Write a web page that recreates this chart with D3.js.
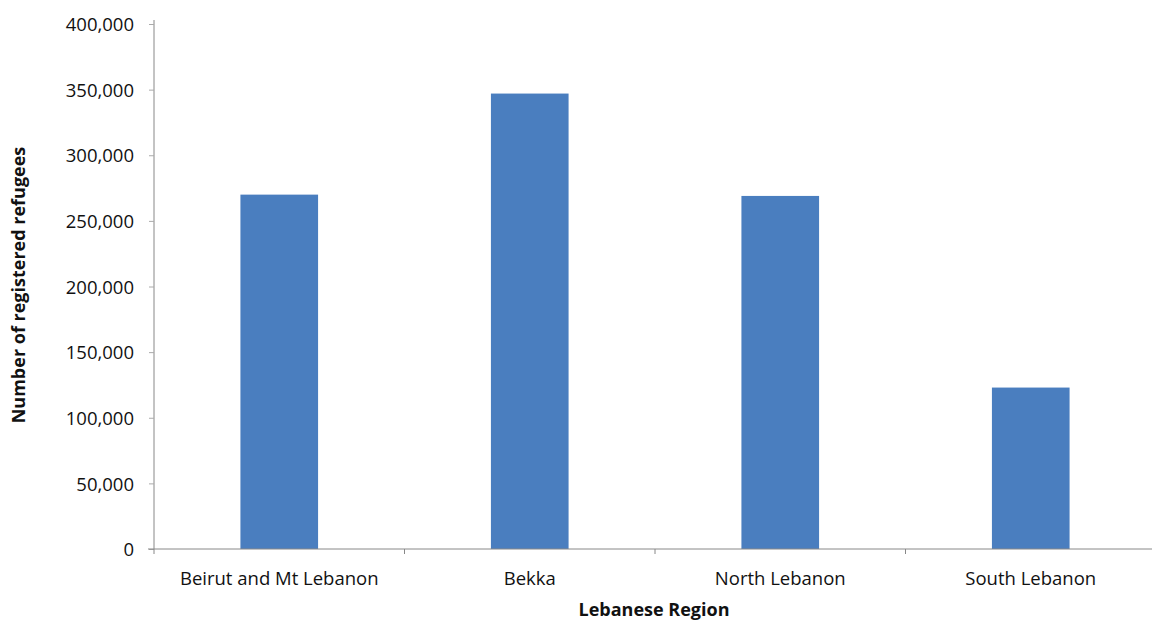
<!DOCTYPE html>
<html>
<head>
<meta charset="utf-8">
<script src="https://cdn.jsdelivr.net/npm/d3@7"></script>
<style>
  html, body { margin: 0; padding: 0; background: #fff; }
  svg { display: block; }
  text { font-family: "Open Sans", "Noto Sans", sans-serif; fill: #111; }
</style>
</head>
<body>
<svg id="chart" width="1152" height="622"></svg>
<script>
const categories = ["Beirut and Mt Lebanon", "Bekka", "North Lebanon", "South Lebanon"];
const refugees = [270000, 347000, 269000, 123000];
const yTicks = [0, 50000, 100000, 150000, 200000, 250000, 300000, 350000, 400000];
const xTitle = "Lebanese Region";
const yTitle = "Number of registered refugees";

const svg = d3.select("#chart");
const mLeft = 154, mRight = 1156, mTop = 24, mBottom = 549;

const x = d3.scaleBand().domain(categories).range([mLeft, mRight]).paddingInner(0.69).paddingOuter(0.345);
const y = d3.scaleLinear().domain([0, 400000]).range([mBottom, mTop]);

// bars
svg.append("g").selectAll("rect").data(categories).join("rect")
  .attr("x", d => x(d))
  .attr("y", (d, i) => y(refugees[i]))
  .attr("width", x.bandwidth())
  .attr("height", (d, i) => y(0) - y(refugees[i]))
  .attr("fill", "#4a7ebf");

// y axis
const yAxis = svg.append("g").attr("transform", `translate(${mLeft},0)`)
  .call(d3.axisLeft(y).tickValues(yTicks).tickSize(5).tickPadding(15).tickFormat(d3.format(",")));
yAxis.select(".domain").attr("stroke", "#888").attr("d", `M0,${mTop - 4}V${mBottom}`);
yAxis.selectAll(".tick line").attr("stroke", "#aaa");
yAxis.selectAll(".tick text").attr("font-size", 18.5).attr("font-family", "Open Sans").attr("fill", "#111").attr("dy", "0.36em");

// x axis
const xAxis = svg.append("g").attr("transform", `translate(0,${mBottom})`);
xAxis.append("line").attr("x1", mLeft - 6).attr("x2", mRight).attr("y1", 0).attr("y2", 0).attr("stroke", "#888");
const edges = [mLeft].concat(categories.slice(1).map(c => x(c) - (x.step() - x.bandwidth()) / 2));
xAxis.selectAll("line.tk").data(edges).join("line").attr("class", "tk")
  .attr("x1", d => d).attr("x2", d => d).attr("y1", 0).attr("y2", 5).attr("stroke", "#888");
xAxis.selectAll("text.cat").data(categories).join("text").attr("class", "cat")
  .attr("x", d => x(d) + x.bandwidth() / 2).attr("y", 36)
  .attr("text-anchor", "middle").attr("font-size", 18.5).text(d => d);

// titles
svg.append("text").attr("x", 654).attr("y", 616).attr("text-anchor", "middle")
  .attr("font-size", 18).attr("font-weight", "bold").text(xTitle);
svg.append("text").attr("transform", "translate(25,285) rotate(-90)").attr("text-anchor", "middle")
  .attr("font-size", 18).attr("font-weight", "bold").text(yTitle);
</script>
</body>
</html>
